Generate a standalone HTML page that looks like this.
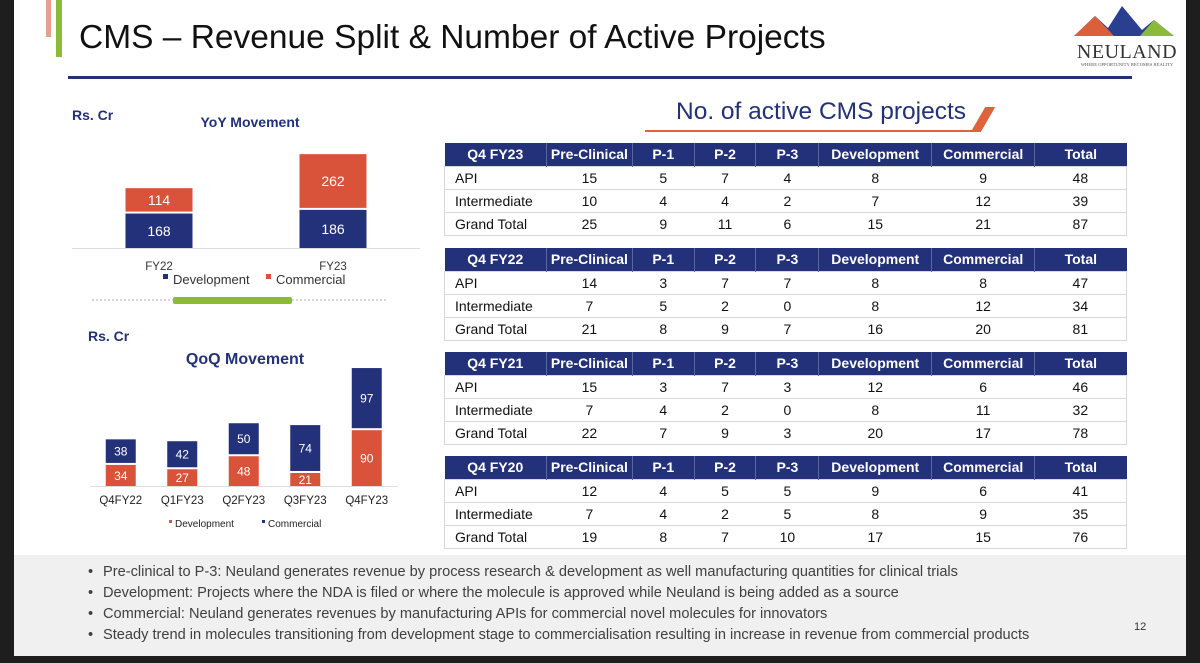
<!DOCTYPE html>
<html><head><meta charset="utf-8">
<style>
*{margin:0;padding:0;box-sizing:border-box}
body{width:1200px;height:663px;background:#1e1e1e;position:relative;overflow:hidden;font-family:"Liberation Sans",sans-serif}
#slide{position:absolute;left:14px;top:0;width:1172px;height:656px;background:#fff}
.abs{position:absolute}
table.t{position:absolute;left:444px;width:683px;border-collapse:collapse;font-size:14px;color:#111}
table.t th{background:#23317a;color:#fff;font-weight:bold;height:23px;border-left:1px solid #5a66a0;padding:0;text-align:center}
table.t th:first-child{border-left:none}
table.t td{height:23px;border:1px solid #d8d8d8;border-left:none;border-right:none;text-align:center;padding:0}
table.t td:first-child{text-align:left;padding-left:10px;border-left:1px solid #d8d8d8}
table.t td:last-child{border-right:1px solid #d8d8d8}
#notes{position:absolute;left:14px;top:555px;width:1172px;height:101px;background:#f0f0f0;font-family:"Liberation Sans",sans-serif;font-size:14.6px;color:#404040}
#notes li{position:absolute;left:89px;list-style:none;white-space:nowrap}
#notes li:before{content:"•";position:absolute;left:-15px}
</style></head><body>
<div id="slide"></div>
<div class="abs" style="left:46px;top:0;width:5px;height:37px;background:#e8a08e"></div>
<div class="abs" style="left:56px;top:0;width:6px;height:57px;background:#8cbb3c"></div>
<div class="abs" style="left:79px;top:19px;font-family:'Liberation Sans',sans-serif;font-size:33.5px;color:#111;white-space:nowrap">CMS – Revenue Split &amp; Number of Active Projects</div>
<div class="abs" style="left:68px;top:76px;width:1064px;height:3px;background:#23317a"></div>

<svg class="abs" style="left:1060px;top:0" width="125" height="72">
<polygon points="14,36 35,16 48,28 62,6 82,30 94,20 114,36" fill="#2a3f8f"/>
<polygon points="14,36 35,16 54,36" fill="#d9603a"/>
<polygon points="80,36 94,20 114,36" fill="#8cbb3c"/>
<text x="67" y="58" text-anchor="middle" font-family="Liberation Serif,serif" font-size="20" fill="#333" letter-spacing="0.5">NEULAND</text>
<text x="67" y="66" text-anchor="middle" font-family="Liberation Serif,serif" font-size="4.6" fill="#555">WHERE OPPORTUNITY BECOMES REALITY</text>
</svg>

<svg id="yoy" class="abs" style="left:0;top:90px" width="440" height="220"></svg>
<svg id="qoq" class="abs" style="left:0;top:320px" width="440" height="220"></svg>

<div class="abs" style="left:676px;top:98px;font-family:'Liberation Sans',sans-serif;font-size:24.5px;color:#23317a;white-space:nowrap">No. of active CMS projects</div>
<div class="abs" style="left:645px;top:130px;width:335px;height:2px;background:#e0623a"></div>
<div class="abs" style="left:978px;top:107px;width:10px;height:25px;background:#e0623a;transform:skewX(-30deg)"></div>

<div id="tables"></div>

<ul id="notes">
<li style="top:9px">Pre-clinical to P-3: Neuland generates revenue by process research &amp; development as well manufacturing quantities for clinical trials</li>
<li style="top:30px">Development: Projects where the NDA is filed or where the molecule is approved while Neuland is being added as a source</li>
<li style="top:51px">Commercial: Neuland generates revenues by manufacturing APIs for commercial novel molecules for innovators</li>
<li style="top:72px">Steady trend in molecules transitioning from development stage to commercialisation resulting in increase in revenue from commercial products</li>
</ul>
<div class="abs" style="left:1134px;top:621px;font-size:11px;color:#333">12</div>

<script>
// YoY data
const yoyCats=["FY22","FY23"];
const yoyDev=[168,186];
const yoyCom=[114,262];
// QoQ data
const qoqCats=["Q4FY22","Q1FY23","Q2FY23","Q3FY23","Q4FY23"];
const qoqDev=[34,27,48,21,90];
const qoqCom=[38,42,50,74,97];
// Table data
const tblTitles=["Q4 FY23","Q4 FY22","Q4 FY21","Q4 FY20"];
const tblCols=["Pre-Clinical","P-1","P-2","P-3","Development","Commercial","Total"];
const tblRows=["API","Intermediate","Grand Total"];
const tblFY23=[[15,5,7,4,8,9,48],[10,4,4,2,7,12,39],[25,9,11,6,15,21,87]];
const tblFY22=[[14,3,7,7,8,8,47],[7,5,2,0,8,12,34],[21,8,9,7,16,20,81]];
const tblFY21=[[15,3,7,3,12,6,46],[7,4,2,0,8,11,32],[22,7,9,3,20,17,78]];
const tblFY20=[[12,4,5,5,9,6,41],[7,4,2,5,8,9,35],[19,8,7,10,17,15,76]];

const NS="http://www.w3.org/2000/svg";
const BLUE="#23317a",ORANGE="#d9533a";
function mk(p,tag,a,txt){const e=document.createElementNS(NS,tag);for(const k in a)e.setAttribute(k,a[k]);if(txt!==undefined)e.textContent=txt;p.appendChild(e);return e;}

// YoY chart
(function(){
 const s=document.getElementById('yoy');
 const base=158, k=0.205, x0=72, bandW=174, bw=67;
 const xc=i=>x0+bandW*(i+0.5);
 const y=v=>v*k;
 let t;
 t=mk(s,'text',{x:72,y:30,'font-size':14,'font-weight':'bold',fill:BLUE},'Rs. Cr');
 
 t=mk(s,'text',{x:250,y:37,'text-anchor':'middle','font-size':14,'font-weight':'bold',fill:BLUE},'YoY Movement');
 
 const ax=mk(s,'line',{x1:72,x2:420,y1:base+0.5,y2:base+0.5,stroke:'#ddd'});
 
 yoyCats.forEach((c,i)=>{
  const hd=y(yoyDev[i]),hc=y(yoyCom[i]),cx=xc(i);
  let r=mk(s,'rect',{x:cx-bw/2,y:base-hd,width:bw,height:hd,fill:BLUE});
  
  r=mk(s,'rect',{x:cx-bw/2,y:base-hd-2-hc,width:bw,height:hc,fill:ORANGE});
  
  let l=mk(s,'text',{x:cx,y:base-hd/2+5,'text-anchor':'middle','font-size':14,fill:'#fff'},yoyDev[i]);
  
  l=mk(s,'text',{x:cx,y:base-hd-2-hc/2+5,'text-anchor':'middle','font-size':14,fill:'#fff'},yoyCom[i]);
  
  l=mk(s,'text',{x:cx,y:base+22,'text-anchor':'middle','font-size':11.5,fill:'#333'},c);
  
 });
 let g=mk(s,'rect',{x:163,y:184,width:5,height:5,fill:BLUE});
 g=mk(s,'text',{x:173,y:194,'font-size':13,fill:'#333'},'Development');
 g=mk(s,'rect',{x:266,y:184,width:5,height:5,fill:ORANGE});
 g=mk(s,'text',{x:276,y:194,'font-size':13,fill:'#333'},'Commercial');
 g=mk(s,'line',{x1:92,x2:388,y1:210,y2:210,stroke:'#aab','stroke-dasharray':'2,2'});
 g=mk(s,'rect',{x:173,y:207,width:119,height:7,rx:2,fill:'#8cbb3c'});
})();

// QoQ chart
(function(){
 const s=document.getElementById('qoq');
 const base=166, k=0.62, x0=90, bandW=61.5, bw=30;
 const xc=i=>x0+bandW*(i+0.5);
 const y=v=>v*k;
 let t;
 t=mk(s,'text',{x:88,y:21,'font-size':14,'font-weight':'bold',fill:BLUE},'Rs. Cr');
 
 t=mk(s,'text',{x:245,y:44,'text-anchor':'middle','font-size':16,'font-weight':'bold',fill:BLUE},'QoQ Movement');
 
 const ax=mk(s,'line',{x1:90,x2:398,y1:base+0.5,y2:base+0.5,stroke:'#ddd'});
 
 qoqCats.forEach((c,i)=>{
  const hd=y(qoqDev[i]),hc=y(qoqCom[i]),cx=xc(i);
  let r=mk(s,'rect',{x:cx-bw/2,y:base-hd,width:bw,height:hd,fill:ORANGE});
  
  r=mk(s,'rect',{x:cx-bw/2,y:base-hd-2-hc,width:bw,height:hc,fill:BLUE});
  
  let l=mk(s,'text',{x:cx,y:base-hd/2+4.5,'text-anchor':'middle','font-size':12,fill:'#fff'},qoqDev[i]);
  
  l=mk(s,'text',{x:cx,y:base-hd-2-hc/2+4.5,'text-anchor':'middle','font-size':12,fill:'#fff'},qoqCom[i]);
  
  l=mk(s,'text',{x:cx,y:base+18,'text-anchor':'middle','font-size':11.5,fill:'#222'},c);
  
 });
 let g=mk(s,'rect',{x:169,y:200,width:3,height:3,fill:ORANGE});
 g=mk(s,'text',{x:175,y:207,'font-size':10,fill:'#222'},'Development');
 g=mk(s,'rect',{x:262,y:200,width:3,height:3,fill:BLUE});
 g=mk(s,'text',{x:268,y:207,'font-size':10,fill:'#222'},'Commercial');
})();

// Tables
(function(){
 const host=document.getElementById('tables');
 const datas=[tblFY23,tblFY22,tblFY21,tblFY20];
 const tops=[143,248,352,456];
 const widths=[102,86,62,62,63,113,103,92];
 tblTitles.forEach((ttl,ti)=>{
  const t=document.createElement('table');t.className='t';t.style.top=tops[ti]+'px';
  
  
  const cg=document.createElement('colgroup');widths.forEach(w=>{const c=document.createElement('col');c.style.width=w+'px';cg.appendChild(c);});t.appendChild(cg);
  const hr=document.createElement('tr');
  [ttl].concat(tblCols).forEach(h=>{const th=document.createElement('th');th.textContent=h;
   
   
   hr.appendChild(th);});
  t.appendChild(hr);
  tblRows.forEach((rn,ri)=>{
   const tr=document.createElement('tr');
   const td0=document.createElement('td');td0.textContent=rn;
   
   
   tr.appendChild(td0);
   datas[ti][ri].forEach(v=>{const td=document.createElement('td');td.textContent=v;
    
    
    tr.appendChild(td);});
   t.appendChild(tr);
  });
  host.appendChild(t);
 });
})();
</script>
</body></html>
